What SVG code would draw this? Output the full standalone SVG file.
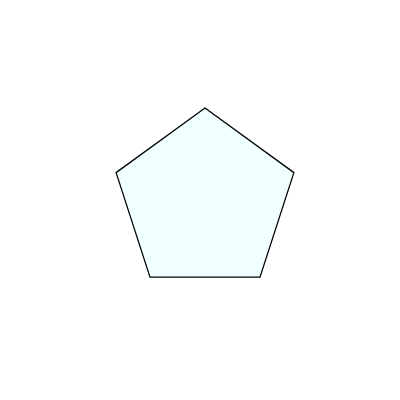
<svg xmlns="http://www.w3.org/2000/svg" width="400" height="400" viewBox="0 0 400 400">
<style>.shape{fill:#F0FFFF;stroke:#000;stroke-width:1.3}</style>
<rect width="400" height="400" fill="#fff"/>
<g id="pentagon">
<polygon class="shape" points="205,108 293.9,172.6 260,277.1 150,277.1 116.1,172.6"/>
</g>
</svg>
